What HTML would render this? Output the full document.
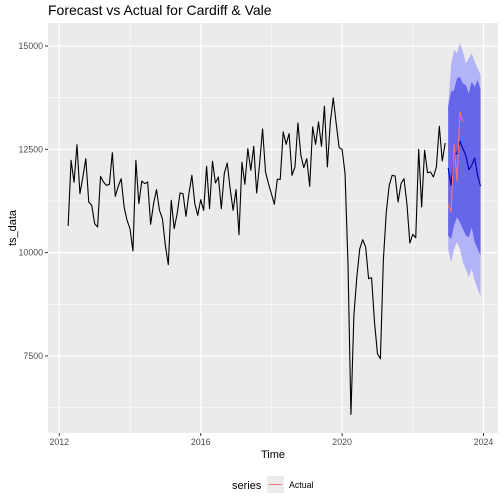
<!DOCTYPE html>
<html><head><meta charset="utf-8"><style>
body{margin:0;background:#fff;}
svg{display:block;font-family:"Liberation Sans",Arial,sans-serif;}
</style></head><body>
<svg id="chart" width="504" height="504" viewBox="0 0 504 504">
<text x="48" y="15" font-size="14" fill="#000">Forecast vs Actual for Cardiff &amp; Vale</text>
<rect x="48" y="23" width="450" height="410" fill="#ebebeb"/>
<g id="grid"></g>
<g id="bands"></g>
<g id="lines"></g>
<g id="axes"></g>
<text x="273" y="458" font-size="11" text-anchor="middle" fill="#000">Time</text>
<text transform="translate(16,228) rotate(-90)" font-size="11" text-anchor="middle" fill="#000">ts_data</text>
<g>
<text x="232" y="489" font-size="11" fill="#000">series</text>
<rect x="267" y="476" width="17" height="17" fill="#ebebeb"/>
<line x1="269" y1="484.5" x2="282" y2="484.5" stroke="#f8766d" stroke-width="1"/>
<text x="289" y="488" font-size="8.8" fill="#000">Actual</text>
</g>
</svg>
<script>
const tsStart = 2012.25;
const tsValues = [10644,12234,11701,12613,11427,11830,12274,11225,11144,10700,10620,11846,11709,11628,11653,12419,11362,11604,11790,11104,10781,10579,10039,12234,11185,11733,11669,11709,10684,11185,11524,11023,10821,10176,9708,11265,10579,10942,11443,11427,10878,11427,11871,11185,10902,11281,11023,12088,11064,12209,11685,11830,11064,11911,12169,11548,11023,11524,10434,12185,11653,12516,11992,12573,11443,12153,12992,11951,11669,11427,
11168,11774,11774,12920,12621,12879,11871,12072,13138,12355,12056,12274,11604,13041,12621,13162,12573,13541,12072,13162,13743,13121,12540,12500,11911,9732,6084,8481,9409,10095,10313,10135,9369,9393,8320,7553,7432,9813,10983,11628,11871,11854,11225,11669,11790,11185,10232,10442,10361,12500,11104,12476,11935,11951,11830,12072,13057,12218,12653];
const fcStart = 2023.0;
const fcMean = [12047,11626,12400,12395,12694,12516,12354,12007,12112,12290,11869,11610];
const fcHi80 = [13527,13891,13932,14215,14256,14094,14053,13851,14134,14013,14175,13950];
const fcLo80 = [10413,10332,10655,10858,10736,10574,10413,10372,10615,10251,10089,9927];
const fcHi95 = [13568,14539,14903,14822,15065,14862,14579,14700,14822,14620,14458,14300];
const fcLo95 = [10089,9766,10089,10251,10089,9766,9604,9402,9604,9321,9118,8957];
const actualValues = [11181,10979,12613,11731,13406,13163];
const xTicks = [2012,2016,2020,2024];
const xMinor = [2014,2018,2022];
const yTicks = [7500,10000,12500,15000];
const yMinor = [6250,8750,11250,13750];

const NS="http://www.w3.org/2000/svg";
const X = t => 59.3 + (t-2012)*35.35;
const Y = v => 149.3 - (v-12500)*0.04133;
function mk(tag, attrs, parent){const e=document.createElementNS(NS,tag);for(const k in attrs)e.setAttribute(k,attrs[k]);document.getElementById(parent).appendChild(e);return e;}
// grid
yMinor.forEach(v=>{const l=mk('line',{x1:48,x2:498,y1:Y(v),y2:Y(v),stroke:'#fff','stroke-width':0.6},'grid');

});
xMinor.forEach(t=>{const l=mk('line',{x1:X(t),x2:X(t),y1:23,y2:433,stroke:'#fff','stroke-width':0.6},'grid');

});
yTicks.forEach(v=>{const l=mk('line',{x1:48,x2:498,y1:Y(v),y2:Y(v),stroke:'#fff','stroke-width':1.2},'grid');


const tk=mk('line',{x1:45,x2:48,y1:Y(v),y2:Y(v),stroke:'#333','stroke-width':1},'axes');


const tx=mk('text',{x:43,y:Y(v)+3,'font-size':8.8,'text-anchor':'end',fill:'#4d4d4d'},'axes');tx.textContent=v;

});
xTicks.forEach(t=>{const l=mk('line',{x1:X(t),x2:X(t),y1:23,y2:433,stroke:'#fff','stroke-width':1.2},'grid');


const tk=mk('line',{x1:X(t),x2:X(t),y1:433,y2:436,stroke:'#333','stroke-width':1},'axes');


const tx=mk('text',{x:X(t),y:445,'font-size':8.8,'text-anchor':'middle',fill:'#4d4d4d'},'axes');tx.textContent=t;

});
// bands
function band(hi,lo,fill,name){let pts=[];hi.forEach((v,i)=>pts.push(X(fcStart+i/12)+','+Y(v)));
for(let i=lo.length-1;i>=0;i--)pts.push(X(fcStart+i/12)+','+Y(lo[i]));
const p=mk('polygon',{points:pts.join(' '),fill:fill},'bands');

}
band(fcHi95,fcLo95,'#b3b3f8','forecast-band-95');
band(fcHi80,fcLo80,'#6666ea','forecast-band-80');
function line(vals,start,color,w,name){const pts=vals.map((v,i)=>X(start+i/12)+','+Y(v)).join(' ');
const p=mk('polyline',{points:pts,fill:'none',stroke:color,'stroke-width':w,'stroke-linejoin':'round'},'lines');

}
line(tsValues,tsStart,'#000',1.1,'historical-series-line');
line(fcMean,fcStart,'#0000aa',1.1,'forecast-mean-line');
line(actualValues,fcStart,'#f8766d',1.1,'actual-series-line');
</script>
</body></html>
